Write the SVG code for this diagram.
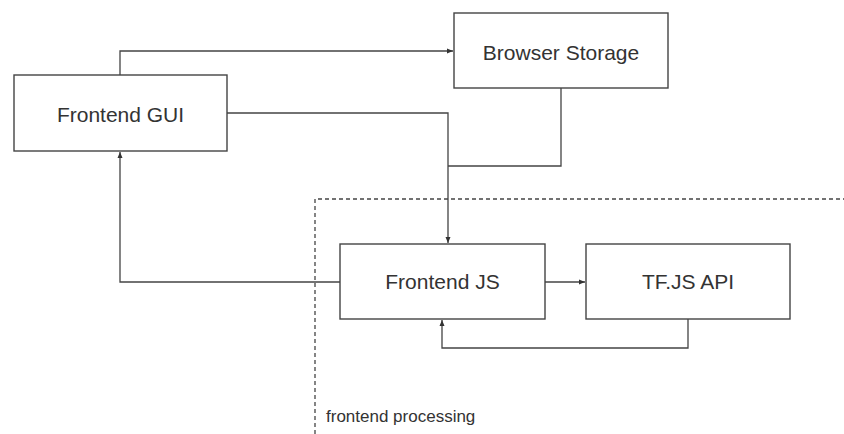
<svg xmlns="http://www.w3.org/2000/svg" width="844" height="434" viewBox="0 0 844 434">
<style>
.box{fill:#fff;stroke:#444;stroke-width:1.4}
.lbl{font-family:"Liberation Sans",Arial,sans-serif;font-size:21px;fill:#333;text-anchor:middle}
.conn{fill:none;stroke:#444;stroke-width:1.3}
.dash{fill:none;stroke:#444;stroke-width:1.3;stroke-dasharray:4 3}
</style>
<defs>
<marker id="arr" viewBox="0 0 6 6" refX="6" refY="3" markerWidth="6" markerHeight="6" markerUnits="userSpaceOnUse" orient="auto">
<path d="M0,0.5 L6,3 L0,5.5 Z" fill="#333"/>
</marker>
</defs>
<rect width="844" height="434" fill="#fff"/>
<g id="boundary">
<path class="dash" d="M315,434 V199 H844"/>
<text x="326" y="422" font-family="Liberation Sans, Arial, sans-serif" font-size="17" fill="#333">frontend processing</text>
</g>
<g id="connectors">
<path class="conn" d="M120,75 V51 H453" marker-end="url(#arr)"/>
<path class="conn" d="M227,113 H448 V243" marker-end="url(#arr)"/>
<path class="conn" d="M561,88 V166 H448"/>
<path class="conn" d="M545,282 H585" marker-end="url(#arr)"/>
<path class="conn" d="M688,319 V348 H442 V320" marker-end="url(#arr)"/>
<path class="conn" d="M340,282 H120 V152" marker-end="url(#arr)"/>
</g>
<g id="frontend-gui">
<rect class="box" x="14" y="75" width="213" height="76"/>
<text class="lbl" x="120.5" y="122">Frontend GUI</text>
</g>
<g id="browser-storage">
<rect class="box" x="454" y="13" width="214" height="75"/>
<text class="lbl" x="561" y="60">Browser Storage</text>
</g>
<g id="frontend-js">
<rect class="box" x="340" y="244" width="205" height="75"/>
<text class="lbl" x="442.5" y="289">Frontend JS</text>
</g>
<g id="tfjs-api">
<rect class="box" x="586" y="244" width="204" height="75"/>
<text class="lbl" x="688" y="289">TF.JS API</text>
</g>
</svg>
